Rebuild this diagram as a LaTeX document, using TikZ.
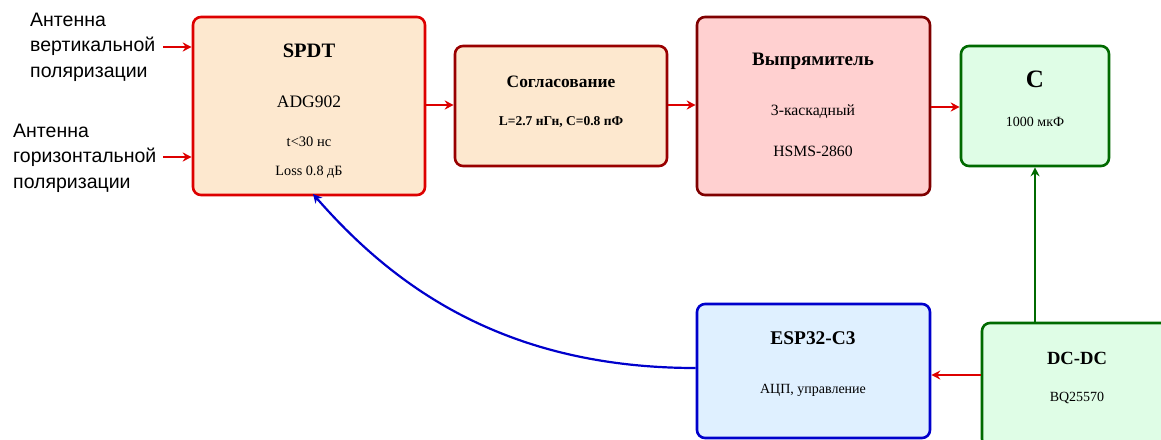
\documentclass[tikz,border=0pt]{standalone}
\usepackage{fontspec}
\setmainfont{Liberation Serif}
\newfontfamily\lblfont{Liberation Sans}
\usetikzlibrary{arrows.meta}
\definecolor{rd}{HTML}{DD0000}
\definecolor{drd}{HTML}{990000}
\definecolor{drd2}{HTML}{7F0000}
\definecolor{peach}{HTML}{FDE8CF}
\definecolor{pink}{HTML}{FFD0D0}
\definecolor{grn}{HTML}{006A00}
\definecolor{lgrn}{HTML}{DFFDE6}
\definecolor{blu}{HTML}{0000CC}
\definecolor{lblu}{HTML}{DFF0FF}
\tikzset{
  blk/.style={draw, rectangle, rounded corners=8pt, line width=2.6pt, inner sep=0pt},
  ttl/.style={font=\bfseries\fontsize{#1}{#1}\selectfont, inner sep=0pt},
  txt/.style={font=\fontsize{#1}{#1}\selectfont, inner sep=0pt},
  btxt/.style={font=\bfseries\fontsize{#1}{#1}\selectfont, inner sep=0pt},
  lbl/.style={font=\lblfont\fontsize{19.5}{25.5}\selectfont, align=left, inner sep=0pt, anchor=west},
  arr/.style={-{Stealth[length=9pt,width=9pt]}, line width=2.2pt},
}
\begin{document}
\begin{tikzpicture}[x=1pt,y=-1pt]
\useasboundingbox (0,0) rectangle (1161,439);
% boxes
\node[blk, draw=rd, fill=peach, minimum width=232pt, minimum height=178pt] (spdt) at (309,106) {};
\node[blk, draw=drd, fill=peach, minimum width=212pt, minimum height=120pt] (match) at (561,106) {};
\node[blk, draw=drd2, fill=pink, minimum width=233pt, minimum height=178pt] (rect) at (813.5,106) {};
\node[blk, draw=grn, fill=lgrn, minimum width=148pt, minimum height=120pt] (cap) at (1035,106) {};
\node[blk, draw=blu, fill=lblu, minimum width=233pt, minimum height=134pt] (esp) at (813.5,371) {};
\node[blk, draw=grn, fill=lgrn, minimum width=196pt, minimum height=124pt] (dcdc) at (1080,385) {};
% texts
\node[ttl=20.5] (spdt-t) at (309,51) {SPDT};
\node[txt=17.5] (spdt-a) at (309,102) {ADG902};
\node[txt=14.5] (spdt-b) at (309,142) {t<30 нс};
\node[txt=14.2] (spdt-c) at (309,172) {Loss 0.8 дБ};
\node[ttl=17.4] (match-t) at (561,82) {Согласование};
\node[btxt=13.5] (match-a) at (561,122) {L=2.7 нГн, C=0.8 пФ};
\node[ttl=19] (rect-t) at (813,61) {Выпрямитель};
\node[txt=15.7] (rect-a) at (813,112) {3-каскадный};
\node[txt=15.7] (rect-b) at (813,151) {HSMS-2860};
\node[ttl=25] (cap-t) at (1035,79) {C};
\node[txt=14] (cap-a) at (1035,122) {1000 мкФ};
\node[ttl=19.4] (esp-t) at (813,338) {ESP32-C3};
\node[txt=14] (esp-a) at (813,390) {АЦП, управление};
\node[ttl=18.6] (dcdc-t) at (1077,358) {DC-DC};
\node[txt=14] (dcdc-a) at (1077,398) {BQ25570};
% antenna labels
\node[lbl] (ant1) at (30,47) {Антенна\\вертикальной\\поляризации};
\node[lbl] (ant2) at (13,158) {Антенна\\горизонтальной\\поляризации};
\coordinate (a1) at (163,47);
\coordinate (a2) at (163,157);
% connectors
\draw[arr, rd] (a1) -- (a1 -| spdt.west);
\draw[arr, rd] (a2) -- (a2 -| spdt.west);
\draw[arr, rd] (spdt.east |- 0,105) -- (match.west |- 0,105);
\draw[arr, rd] (match.east |- 0,105) -- (rect.west |- 0,105);
\draw[arr, rd] (rect.east |- 0,107) -- (cap.west |- 0,107);
\draw[arr, rd] (dcdc.west |- 0,375) -- (esp.east |- 0,375);
\draw[arr, grn] (dcdc.north -| cap.south) -- (cap.south);
\draw[arr, blu] (esp.west |- 0,368) .. controls (500,368) and (390,282) .. (313,194);
\end{tikzpicture}
\end{document}
